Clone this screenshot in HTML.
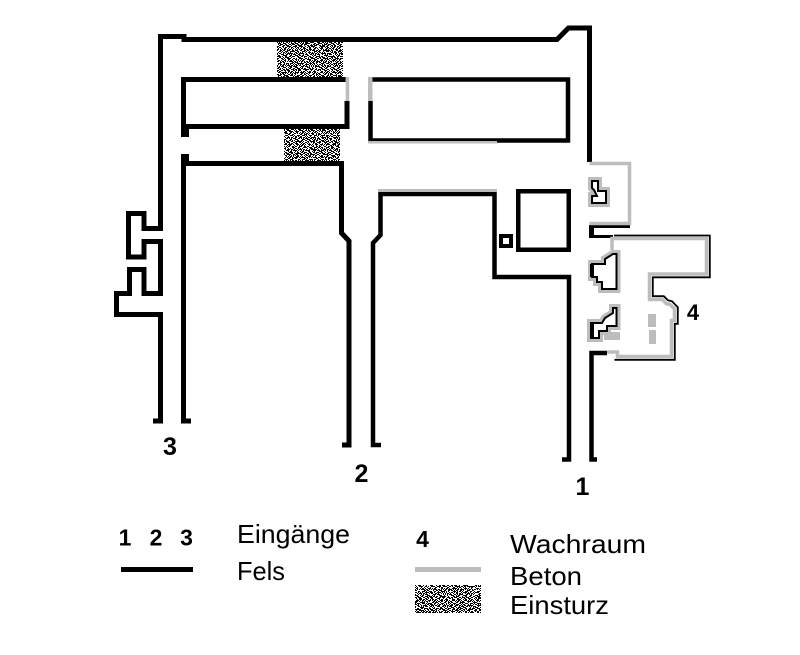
<!DOCTYPE html>
<html>
<head>
<meta charset="utf-8">
<style>
html,body{margin:0;padding:0;background:#fff;}
svg{display:block;}
text{font-family:"Liberation Sans",Arial,sans-serif;fill:#000;}
</style>
</head>
<body>
<svg width="800" height="655" viewBox="0 0 800 655" xmlns="http://www.w3.org/2000/svg">
<defs>
<pattern id="h" width="12" height="12" patternUnits="userSpaceOnUse">
<rect width="12" height="12" fill="#fff"/>
<path fill="#000" d="M0 0h1v1h-1zM2 0h2v1h-2zM5 0h1v1h-1zM8 0h3v1h-3z
M1 1h2v1h-2zM4 1h1v1h-1zM6 1h2v1h-2zM9 1h1v1h-1zM11 1h1v1h-1z
M0 2h2v1h-2zM4 2h2v1h-2zM7 2h2v1h-2z
M2 3h3v1h-3zM6 3h1v1h-1zM9 3h3v1h-3z
M0 4h1v1h-1zM2 4h1v1h-1zM5 4h1v1h-1zM7 4h2v1h-2zM10 4h1v1h-1z
M0 5h2v1h-2zM3 5h2v1h-2zM6 5h1v1h-1zM9 5h1v1h-1zM11 5h1v1h-1z
M1 6h1v1h-1zM3 6h1v1h-1zM5 6h3v1h-3zM10 6h2v1h-2z
M0 7h1v1h-1zM2 7h2v1h-2zM7 7h3v1h-3z
M1 8h2v1h-2zM4 8h3v1h-3zM9 8h2v1h-2z
M0 9h1v1h-1zM3 9h2v1h-2zM7 9h2v1h-2zM10 9h2v1h-2z
M0 10h3v1h-3zM5 10h2v1h-2zM8 10h1v1h-1zM11 10h1v1h-1z
M1 11h1v1h-1zM3 11h2v1h-2zM7 11h1v1h-1zM9 11h2v1h-2z"/>
</pattern>
<pattern id="w" width="11" height="11" patternUnits="userSpaceOnUse">
<path fill="#fff" d="M1 0h2v1h-2zM6 1h1v2h-1zM9 2h2v1h-2zM0 4h1v2h-1zM4 4h2v1h-2zM8 5h1v1h-1zM2 7h2v1h-2zM7 8h1v2h-1zM10 8h1v1h-1zM4 10h1v1h-1z"/>
</pattern>
<pattern id="b" width="13" height="13" patternUnits="userSpaceOnUse">
<path fill="#000" d="M3 1h2v1h-2zM10 0h1v2h-1zM0 3h1v1h-1zM6 4h2v1h-2zM12 5h1v1h-1zM2 6h1v2h-1zM9 7h2v1h-2zM5 9h1v1h-1zM11 10h1v2h-1zM1 11h2v1h-2zM7 12h1v1h-1z"/>
</pattern>
</defs>

<!-- Einsturz hatches -->
<g>
<rect x="277" y="42" width="66" height="35" fill="url(#h)"/>
<rect x="277" y="42" width="66" height="35" fill="url(#w)"/>
<rect x="277" y="42" width="66" height="35" fill="url(#b)"/>
<rect x="284" y="128" width="56" height="33" fill="url(#h)"/>
<rect x="284" y="128" width="56" height="33" fill="url(#w)"/>
<rect x="284" y="128" width="56" height="33" fill="url(#b)"/>
</g>

<g fill="none" stroke="#000" stroke-linejoin="miter" stroke-linecap="butt">
  <path stroke-width="5" d="M153 421 H160.5 V314.5 H116.5 V293.5 H129.5 V269.5 H144 V293.5 H160.5 V241.5 H144 V257 H128.5 V213.5 H144 V228.5 H160.5 V36.5 H184 V39.5 H557 L568.5 28 H589.5 V162"/>
  <path stroke-width="5" d="M347 101 V126.5 H183.5 V79.5 H345.7"/>
  <path stroke-width="5" d="M191 421 H183.5 V163.5 H341.5 V233 L349 241 V445 H342"/>
  <path stroke-width="4.5" d="M381 445 H373 V243 L380.5 235 V194 H494.5 V277 H569 V459.5 H562"/>
  <path stroke-width="4.5" d="M372 79.5 H568 V140.5 H370.5 V101"/>
  <path stroke-width="4.5" d="M597 459.5 H591.5 V353 H607"/>
  <path stroke-width="3" d="M630 226.5 H592.5 V236.5 H613"/>
  <rect x="501" y="236" width="10" height="10" stroke-width="4"/>
  <rect x="518.25" y="191.25" width="50.5" height="58.5" stroke-width="4.5"/>
</g>
<rect x="181" y="126" width="8" height="11" fill="#000"/>
<rect x="181" y="154" width="8" height="11" fill="#000"/>
<rect x="589" y="225" width="5" height="13" fill="#000"/>

<g fill="#bdbdbd">
  <rect x="345.7" y="77" width="3.5" height="24"/>
  <rect x="368" y="77" width="4.5" height="24"/>
  <rect x="368" y="141" width="129" height="2.5"/>
  <rect x="378" y="189" width="119" height="3"/>
  <rect x="648" y="314" width="8" height="13"/>
  <rect x="649" y="330" width="7" height="14"/>
  <rect x="604" y="332" width="16" height="8"/>
</g>
<path d="M589.5 163.5 H629.5 V223.5 H589.5" fill="none" stroke="#bdbdbd" stroke-width="3.5"/>

<path d="M612 250 V238.5 H706.5 V274 H649.5 V299.5 H662.5 L666 303.5 L670 304.5 L674.5 308.8 V320.5 H671.5 V356.5 H617.5 V352 H607" fill="none" stroke="#bdbdbd" stroke-width="3.5"/>
<path d="M614 235.5 H709.8 V277.3 H652.8 V296.2 H663.8 L668 300.3 L672 301.3 L677.8 307.3 V323.8 H674.8 V359.8 H614.5" fill="none" stroke="#000" stroke-width="1.8"/>

<g stroke-linejoin="miter">
  <polygon points="592,181 598,181 598,191 606,191 606,203 592,203 592,196 597,196 594,190 592,188" fill="#bdbdbd" stroke="#bdbdbd" stroke-width="8"/>
  <polygon points="592,181 598,181 598,191 606,191 606,203 592,203 592,196 597,196 594,190 592,188" fill="#fff" stroke="#000" stroke-width="2"/>

  <polygon points="613,254 616.5,254 616.5,289 602,289 602,282 597,282 597,277 592,277 592,264 605,264 605,259" fill="#bdbdbd" stroke="#bdbdbd" stroke-width="8"/>
  <polygon points="613,254 616.5,254 616.5,289 602,289 602,282 597,282 597,277 592,277 592,264 605,264 605,259" fill="#fff" stroke="#000" stroke-width="2"/>
  <path d="M592 264 V277" stroke="#000" stroke-width="4"/>

  <polygon points="613,308 616.5,308 616.5,326 607,326 607,331 599,331 599,338 591,338 591,323 602,323 605,318 613,313" fill="#bdbdbd" stroke="#bdbdbd" stroke-width="8"/>
  <polygon points="613,308 616.5,308 616.5,326 607,326 607,331 599,331 599,338 591,338 591,323 602,323 605,318 613,313" fill="#fff" stroke="#000" stroke-width="2"/>
  <path d="M592 323 V338" stroke="#000" stroke-width="4"/>
</g>

<text x="170" y="455" font-size="25" font-weight="bold" text-anchor="middle">3</text>
<text x="361.5" y="482" font-size="25" font-weight="bold" text-anchor="middle">2</text>
<text x="582.5" y="495" font-size="25" font-weight="bold" text-anchor="middle">1</text>
<text x="693" y="320" font-size="22" font-weight="bold" text-anchor="middle">4</text>

<text x="125" y="545.5" font-size="23" font-weight="bold" text-anchor="middle">1</text>
<text x="156" y="545.5" font-size="23" font-weight="bold" text-anchor="middle">2</text>
<text x="186.5" y="545.5" font-size="23" font-weight="bold" text-anchor="middle">3</text>
<rect x="121" y="567" width="72" height="5" fill="#000"/>
<text x="237" y="543" font-size="26" textLength="113" lengthAdjust="spacingAndGlyphs">Eingänge</text>
<text x="237" y="580" font-size="26" textLength="48" lengthAdjust="spacingAndGlyphs">Fels</text>

<text x="422.5" y="547" font-size="23" font-weight="bold" text-anchor="middle">4</text>
<rect x="415" y="567" width="66" height="5" fill="#bdbdbd"/>
<rect x="415" y="585" width="66" height="28" fill="url(#h)"/>
<rect x="415" y="585" width="66" height="28" fill="url(#w)"/>
<rect x="415" y="585" width="66" height="28" fill="url(#b)"/>
<text x="510" y="553" font-size="26" textLength="136" lengthAdjust="spacingAndGlyphs">Wachraum</text>
<text x="510" y="585" font-size="26" textLength="72" lengthAdjust="spacingAndGlyphs">Beton</text>
<text x="510" y="614" font-size="26" textLength="99" lengthAdjust="spacingAndGlyphs">Einsturz</text>
</svg>
</body>
</html>
